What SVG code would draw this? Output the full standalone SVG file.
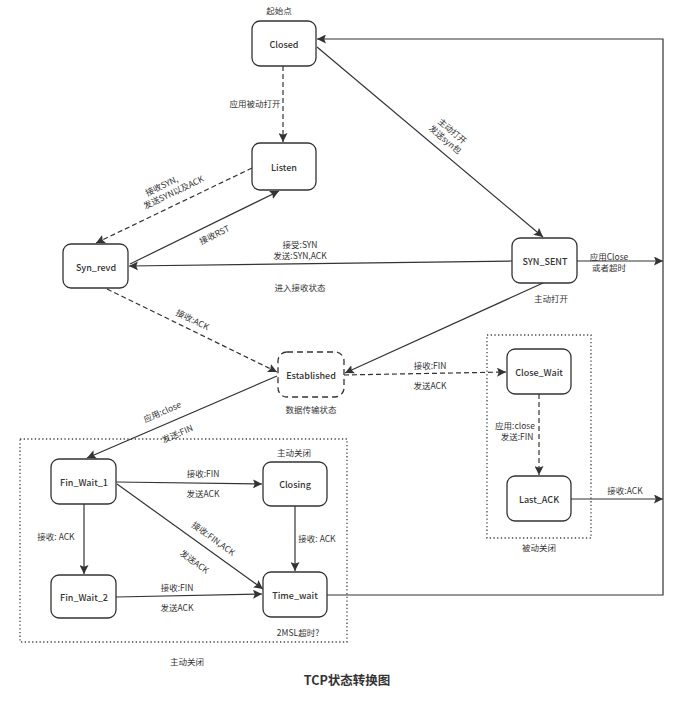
<svg xmlns="http://www.w3.org/2000/svg" width="685" height="703" viewBox="0 0 685 703">
<defs>
<marker id="ah" viewBox="0 0 10 10" refX="10" refY="5" markerWidth="9" markerHeight="9" markerUnits="userSpaceOnUse" orient="auto">
<path d="M0,0 L10,5 L0,10 L2,5 Z" fill="#333"/>
</marker>
<style>
.node rect{fill:#fff;stroke:#333;stroke-width:1.3}
.node text{font-family:"Noto Sans CJK SC","Open Sans",sans-serif;font-size:9px;font-weight:500;fill:#333;text-anchor:middle;dominant-baseline:central}
.dashnode rect{stroke-dasharray:6,4}
.c{fill:none;stroke:#333;stroke-width:1.2}
.ca{fill:none;stroke:#333;stroke-width:1.2;marker-end:url(#ah)}
.d{stroke-dasharray:5,3}
.lbl{font-family:"Noto Sans CJK SC","Open Sans",sans-serif;font-size:8.5px;fill:#333;text-anchor:middle;dominant-baseline:central}
.box{fill:none;stroke:#444;stroke-width:1.3;stroke-dasharray:1.3,2.4}
.title{font-family:"Noto Sans CJK SC","Open Sans",sans-serif;font-size:12.5px;font-weight:700;fill:#333;text-anchor:middle;dominant-baseline:central}
</style>
</defs>
<rect width="685" height="703" fill="#fff"/>
<g id="regions">
<rect class="box" x="20" y="439" width="327" height="203"/>
<rect class="box" x="487" y="335" width="104" height="203"/>
</g>
<g id="connectors">
<line class="ca d" x1="283" y1="66" x2="283" y2="142"/>
<line class="ca" x1="317" y1="47" x2="543" y2="237"/>
<line class="ca d" x1="252" y1="168" x2="96" y2="243"/>
<line class="ca" x1="130" y1="264" x2="279" y2="191"/>
<line class="ca" x1="512" y1="261" x2="129" y2="266"/>
<line class="ca" x1="577" y1="261" x2="663" y2="261"/>
<line class="ca" x1="543" y1="283" x2="345" y2="373"/>
<line class="ca d" x1="107" y1="289" x2="277" y2="372"/>
<line class="ca d" x1="344" y1="375" x2="506" y2="372"/>
<line class="ca" x1="277" y1="376" x2="87" y2="458"/>
<line class="ca d" x1="539" y1="394" x2="539" y2="475"/>
<line class="ca" x1="571" y1="499" x2="663" y2="499"/>
<polyline class="ca" points="327,595 663,595 663,39 317,39"/>
<line class="ca" x1="116" y1="482" x2="262" y2="484"/>
<line class="ca" x1="84" y1="504" x2="84" y2="574"/>
<line class="ca" x1="117" y1="484" x2="263" y2="589"/>
<line class="ca" x1="295" y1="506" x2="295" y2="571"/>
<line class="ca" x1="116" y1="597" x2="262" y2="594"/>
</g>
<g id="n-closed" class="node"><rect x="252" y="21" width="64" height="45" rx="8"/><text x="284" y="44">Closed</text></g>
<g id="n-listen" class="node"><rect x="252" y="143" width="64" height="47" rx="8"/><text x="284" y="167">Listen</text></g>
<g id="n-synrevd" class="node"><rect x="63" y="244" width="65" height="44" rx="8"/><text x="96" y="267">Syn_revd</text></g>
<g id="n-synsent" class="node"><rect x="512" y="238" width="65" height="45" rx="8"/><text x="545" y="261">SYN_SENT</text></g>
<g id="n-established" class="node dashnode"><rect x="278" y="352" width="66" height="45" rx="9"/><text x="311" y="375">Established</text></g>
<g id="n-closewait" class="node"><rect x="507" y="349" width="64" height="45" rx="8"/><text x="539" y="372">Close_Wait</text></g>
<g id="n-lastack" class="node"><rect x="507" y="476" width="64" height="45" rx="8"/><text x="539" y="499">Last_ACK</text></g>
<g id="n-finwait1" class="node"><rect x="51" y="459" width="65" height="45" rx="8"/><text x="84" y="482">Fin_Wait_1</text></g>
<g id="n-closing" class="node"><rect x="263" y="462" width="64" height="44" rx="8"/><text x="295" y="484">Closing</text></g>
<g id="n-finwait2" class="node"><rect x="51" y="575" width="65" height="43" rx="8"/><text x="84" y="597">Fin_Wait_2</text></g>
<g id="n-timewait" class="node"><rect x="263" y="572" width="64" height="45" rx="8"/><text x="295" y="595">Time_wait</text></g>
<g id="labels">
<text class="lbl" x="279" y="10">起始点</text>
<text class="lbl" x="255" y="103">应用被动打开</text>
<g transform="translate(449,135) rotate(40)"><text class="lbl" x="0" y="-6">主动打开</text><text class="lbl" x="0" y="5">发送syn包</text></g>
<g transform="translate(171,187) rotate(-25.5)"><text class="lbl" x="-8" y="-6">接收SYN,</text><text class="lbl" x="0" y="5">发送SYN以及ACK</text></g>
<g transform="translate(214,234) rotate(-26)"><text class="lbl" x="0" y="0">接收RST</text></g>
<text class="lbl" x="300" y="244">接受:SYN</text>
<text class="lbl" x="300" y="255">发送:SYN,ACK</text>
<text class="lbl" x="300" y="287">进入接收状态</text>
<text class="lbl" x="609" y="256">应用Close</text>
<text class="lbl" x="609" y="267">或者超时</text>
<text class="lbl" x="551" y="298">主动打开</text>
<g transform="translate(193,319) rotate(26)"><text class="lbl" x="0" y="0">接收:ACK</text></g>
<text class="lbl" x="311" y="409">数据传输状态</text>
<text class="lbl" x="430" y="365">接收:FIN</text>
<text class="lbl" x="430" y="385">发送ACK</text>
<g transform="translate(162,411) rotate(-23.5)"><text class="lbl" x="0" y="0">应用:close</text></g>
<g transform="translate(177,433) rotate(-23.5)"><text class="lbl" x="0" y="0">发送:FIN</text></g>
<text class="lbl" x="515" y="425">应用:close</text>
<text class="lbl" x="517" y="436">发送:FIN</text>
<text class="lbl" x="539" y="547">被动关闭</text>
<text class="lbl" x="625" y="490">接收:ACK</text>
<text class="lbl" x="294" y="452">主动关闭</text>
<text class="lbl" x="203" y="473">接收:FIN</text>
<text class="lbl" x="203" y="493">发送ACK</text>
<text class="lbl" x="56" y="536">接收: ACK</text>
<g transform="translate(214,538) rotate(36)"><text class="lbl" x="0" y="0">接收:FIN,ACK</text></g>
<g transform="translate(195,561) rotate(36)"><text class="lbl" x="0" y="0">发送ACK</text></g>
<text class="lbl" x="317" y="538">接收: ACK</text>
<text class="lbl" x="177" y="587">接收:FIN</text>
<text class="lbl" x="177" y="607">发送ACK</text>
<text class="lbl" x="298" y="632">2MSL超时?</text>
<text class="lbl" x="187" y="661">主动关闭</text>
<text class="title" x="347" y="679">TCP状态转换图</text>
</g>
</svg>
